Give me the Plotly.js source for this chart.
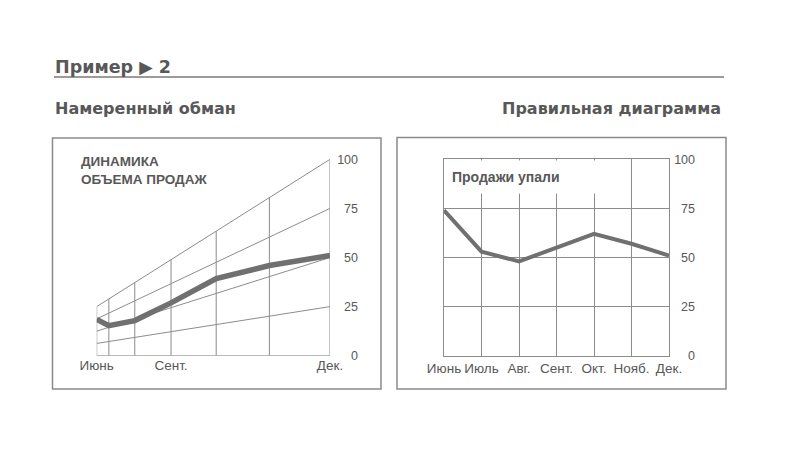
<!DOCTYPE html>
<html>
<head>
<meta charset="utf-8">
<script src="https://cdn.plot.ly/plotly-3.0.1.min.js"></script>
<style>html,body{margin:0;padding:0;background:#fff;}#chart{width:800px;height:450px;}</style>
</head>
<body>
<div id="chart"></div>
<script>
// ---- data ----
const months = ['Июнь', 'Июль', 'Авг.', 'Сент.', 'Окт.', 'Нояб.', 'Дек.'];
const sales = [74, 53, 48, 55, 62, 57, 51];
const valueTicks = [0, 25, 50, 75, 100];
const leftTickMonths = ['Июнь', 'Сент.', 'Дек.'];

// ---- helpers ----
const W = 800, H = 450;
const px = x => x / W;
const py = y => 1 - y / H;

// "deceptive" perspective: months recede to the left, value scale shrinks toward the left
const n = months.length;
const depth = i => Math.pow(i / (n - 1), 1.65);
const shrink = X => 0.25 + 0.75 * X;
const warpY = (i, v) => v * shrink(depth(i));

const gridCol = '#8c8c8c';
const textCol = '#585858';
const lineCol = '#707070';
const FONT = '"Liberation Sans", Arial, sans-serif';
const TFONT = '"DejaVu Sans", "Liberation Sans", sans-serif';

const traces = [];

// left panel grid: value levels (slanted) and month verticals
valueTicks.forEach(v => {
  traces.push({
    x: months.map((m, i) => depth(i)),
    y: months.map((m, i) => warpY(i, v)),
    xaxis: 'x', yaxis: 'y', mode: 'lines', hoverinfo: 'skip', showlegend: false,
    line: {color: gridCol, width: 1}
  });
});
months.forEach((m, i) => {
  traces.push({
    x: [depth(i), depth(i)],
    y: [warpY(i, 0), warpY(i, 100)],
    xaxis: 'x', yaxis: 'y', mode: 'lines', hoverinfo: 'skip', showlegend: false,
    line: {color: gridCol, width: 1}
  });
});
// left panel data
traces.push({
  x: months.map((m, i) => depth(i)),
  y: sales.map((v, i) => warpY(i, v)),
  xaxis: 'x', yaxis: 'y', mode: 'lines', showlegend: false,
  line: {color: lineCol, width: 5.5}
});
// right panel data
traces.push({
  x: months, y: sales,
  xaxis: 'x2', yaxis: 'y2', mode: 'lines', showlegend: false,
  line: {color: lineCol, width: 4}
});
// empty traces that only activate the right-aligned value-label axes
traces.push({x: [], y: [], xaxis: 'x', yaxis: 'y3', mode: 'lines', hoverinfo: 'skip', showlegend: false});
traces.push({x: [], y: [], xaxis: 'x2', yaxis: 'y4', mode: 'lines', hoverinfo: 'skip', showlegend: false});

const yDom = [py(355.7), py(159.3)];
const yTickFont = {family: FONT, size: 12.5, color: textCol};
const xTickFont = {family: FONT, size: 13.5, color: textCol};

const layout = {
  width: W, height: H,
  margin: {l: 0, r: 0, t: 0, b: 0},
  paper_bgcolor: '#ffffff', plot_bgcolor: 'rgba(0,0,0,0)',
  showlegend: false,
  xaxis: {
    domain: [px(96.7), px(330)], range: [0, 1],
    showgrid: false, zeroline: false, showline: false, ticks: '',
    tickmode: 'array',
    tickvals: leftTickMonths.map(m => depth(months.indexOf(m))),
    ticktext: leftTickMonths,
    tickfont: xTickFont, fixedrange: true
  },
  yaxis: {
    domain: yDom, range: [0, 100], side: 'right', anchor: 'x',
    showgrid: false, zeroline: false, showline: false, ticks: '',
    showticklabels: false, fixedrange: true
  },
  yaxis3: {
    overlaying: 'y', anchor: 'free', position: px(358), side: 'left',
    range: [0, 100], showgrid: false, zeroline: false, showline: false, ticks: '',
    tickmode: 'array', tickvals: valueTicks, tickfont: yTickFont, fixedrange: true
  },
  xaxis2: {
    domain: [px(444), px(669)], anchor: 'y2', type: 'category',
    range: [0, n - 1],
    showgrid: true, gridcolor: gridCol, gridwidth: 1,
    zeroline: false, showline: true, linecolor: gridCol, linewidth: 1, mirror: true,
    ticks: '', tickfont: xTickFont, fixedrange: true
  },
  yaxis2: {
    domain: yDom, anchor: 'x2', range: [0, 100], side: 'right',
    showgrid: true, gridcolor: gridCol, gridwidth: 1,
    zeroline: false, showline: true, linecolor: gridCol, linewidth: 1, mirror: true,
    ticks: '', tickmode: 'array', tickvals: valueTicks,
    showticklabels: false, fixedrange: true
  },
  yaxis4: {
    overlaying: 'y2', anchor: 'free', position: px(695), side: 'left',
    range: [0, 100], showgrid: false, zeroline: false, showline: false, ticks: '',
    tickmode: 'array', tickvals: valueTicks, tickfont: yTickFont, fixedrange: true
  },
  shapes: [
    {type: 'line', xref: 'paper', yref: 'paper', x0: px(54), x1: px(724), y0: py(77), y1: py(77),
     line: {color: '#7a7a7a', width: 1.5}},
    {type: 'rect', xref: 'paper', yref: 'paper', x0: px(52.5), x1: px(381), y0: py(389), y1: py(138),
     line: {color: '#8a8a8a', width: 1.5}},
    {type: 'rect', xref: 'paper', yref: 'paper', x0: px(397), x1: px(726), y0: py(389), y1: py(137.5),
     line: {color: '#8a8a8a', width: 1.5}}
  ],
  annotations: [
    {xref: 'paper', yref: 'paper', x: px(53), y: py(67), xanchor: 'left', yanchor: 'middle',
     text: '<b>Пример ▶ 2</b>', showarrow: false, font: {family: TFONT, size: 17.5, color: textCol}},
    {xref: 'paper', yref: 'paper', x: px(53), y: py(108), xanchor: 'left', yanchor: 'middle',
     text: '<b>Намеренный обман</b>', showarrow: false, font: {family: TFONT, size: 16, color: textCol}},
    {xref: 'paper', yref: 'paper', x: px(723), y: py(108), xanchor: 'right', yanchor: 'middle',
     text: '<b>Правильная диаграмма</b>', showarrow: false, font: {family: TFONT, size: 16, color: textCol}},
    {xref: 'paper', yref: 'paper', x: px(79), y: py(170.5), xanchor: 'left', yanchor: 'middle', align: 'left',
     text: '<b>ДИНАМИКА<br>ОБЪЕМА ПРОДАЖ</b>', showarrow: false,
     font: {family: FONT, size: 13.5, color: textCol}},
    {xref: 'paper', yref: 'paper', x: px(445.5), y: py(176.5), xanchor: 'left', yanchor: 'middle', align: 'left',
     width: 166, height: 22, borderpad: 5, bgcolor: '#ffffff',
     text: '<b>Продажи упали</b>', showarrow: false,
     font: {family: FONT, size: 14, color: textCol}}
  ]
};

Plotly.newPlot('chart', traces, layout, {staticPlot: true, displayModeBar: false});
</script>
</body>
</html>
